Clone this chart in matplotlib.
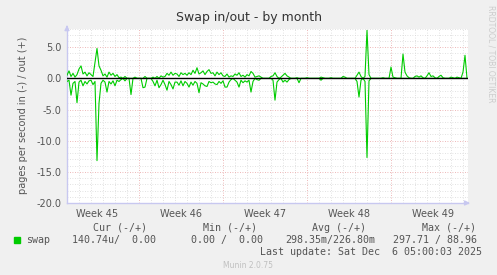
import numpy as np
import matplotlib
matplotlib.use("Agg")
import matplotlib.pyplot as plt

# samples every 4 hours, day 0 = Monday of week 45
step_days = 4 / 24
start_day = 1.0

# swap out (plotted above zero), pages per second
swap_out = [
    0.5, 1.2, 0.3, 0.8, 0.2, 0.6,
    1.5, 2.0, 0.7, 1.0, 0.4, 0.9,
    0.6, 0.3, 2.5, 4.8, 2.0, 1.3,
    0.4, 0.7, 0.2, 1.0, 0.5, 0.8,
    0.3, 0.6, 0.1, 0.2, 0.0, 0.3,
    0.0, 0.0, 0.0, 0.0, 0.2, 0.0,
    0.0, 0.0, 0.0, 0.3, 0.0, 0.0,
    0.0, 0.2, 0.0, 0.3, 0.0, 0.4,
    0.2, 0.3, 0.8, 0.5, 1.0, 0.5,
    0.8, 0.7, 0.3, 0.9, 0.6, 0.8,
    0.5, 0.9, 0.6, 1.3, 0.8, 1.7,
    0.7, 0.9, 1.2, 0.6, 1.1, 1.4,
    0.8, 0.9, 0.4, 1.0, 0.6, 0.9,
    0.4, 0.3, 0.7, 0.2, 0.4, 0.3,
    0.7, 0.5, 0.9, 0.3, 0.5, 0.2,
    0.6, 0.4, 1.1, 0.8, 0.2, 0.3,
    0.4, 0.2, 0.0, 0.0, 0.0, 0.0,
    0.3, 0.4, 0.9, 0.3, 0.0, 0.2,
    0.5, 0.8, 0.4, 0.2, 0.0, 0.0,
    0.0, 0.1, 0.0, 0.0, 0.0, 0.0,
    0.1, 0.0, 0.0, 0.0, 0.0, 0.0,
    0.0, 0.2, 0.1, 0.0, 0.0, 0.0,
    0.1, 0.0, 0.0, 0.0, 0.0, 0.0,
    0.3, 0.2, 0.0, 0.0, 0.0, 0.0,
    0.0, 0.5, 1.0, 0.3, 0.0, 0.3,
    7.7, 0.6, 0.0, 0.0, 0.0, 0.0,
    0.0, 0.0, 0.1, 0.0, 0.0, 0.0,
    1.8, 0.2, 0.1, 0.0, 0.0, 0.0,
    3.9, 1.0, 0.4, 0.1, 0.0, 0.0,
    0.3, 0.4, 0.2, 0.4, 0.1, 0.0,
    0.4, 0.9, 0.3, 0.4, 0.1, 0.0,
    0.3, 0.5, 0.1, 0.0, 0.0, 0.0,
    0.2, 0.1, 0.0, 0.2, 0.1, 0.0,
    1.0, 3.7, 0.0,
]

# swap in (plotted below zero), pages per second
swap_in = [
    0.5, 0.3, 2.7, 0.8, 0.5, 3.9,
    0.6, 0.3, 1.2, 0.5, 0.9, 0.4,
    0.3, 1.0, 0.5, 13.2, 4.0, 0.8,
    0.3, 0.6, 2.2, 0.5, 0.9, 0.4,
    1.2, 0.3, 0.5, 0.2, 0.0, 0.4,
    0.0, 0.0, 2.6, 0.0, 0.0, 0.0,
    0.0, 0.0, 1.5, 1.4, 0.0, 0.0,
    0.0, 0.5, 1.2, 0.3, 1.5, 1.0,
    0.3, 1.0, 1.9, 0.5, 1.0, 1.7,
    0.6, 0.6, 1.1, 0.4, 1.2, 0.5,
    0.8, 1.4, 0.6, 1.1, 0.5, 0.8,
    2.3, 0.7, 0.9, 1.2, 1.3, 0.5,
    0.7, 0.6, 0.9, 1.0, 0.5, 0.8,
    0.4, 1.4, 1.4, 0.6, 0.2, 0.0,
    0.3, 0.6, 1.4, 0.3, 0.7, 0.4,
    0.6, 0.3, 2.2, 0.5, 0.0, 0.2,
    0.3, 0.0, 0.0, 0.0, 0.0, 0.0,
    0.0, 0.3, 3.5, 0.6, 0.2, 0.0,
    0.6, 0.3, 0.6, 0.2, 0.0, 0.0,
    0.0, 0.0, 0.7, 0.0, 0.0, 0.0,
    0.0, 0.0, 0.0, 0.0, 0.0, 0.0,
    0.0, 0.3, 0.0, 0.0, 0.0, 0.0,
    0.0, 0.0, 0.0, 0.0, 0.0, 0.0,
    0.0, 0.0, 0.0, 0.0, 0.0, 0.0,
    0.0, 0.5, 3.0, 0.3, 0.0, 0.5,
    12.7, 0.4, 0.0, 0.0, 0.0, 0.0,
    0.0, 0.0, 0.0, 0.0, 0.0, 0.0,
    0.0, 0.0, 0.0, 0.0, 0.0, 0.0,
    0.0, 0.0, 0.0, 0.0, 0.0, 0.0,
    0.0, 0.0, 0.0, 0.0, 0.0, 0.0,
    0.0, 0.0, 0.0, 0.0, 0.0, 0.0,
    0.0, 0.0, 0.0, 0.0, 0.0, 0.0,
    0.0, 0.0, 0.0, 0.0, 0.0, 0.0,
    0.0, 0.0, 0.0,
]

week_labels = ["Week 45", "Week 46", "Week 47", "Week 48", "Week 49"]
week_starts = [0, 7, 14, 21, 28]

legend_headers = ["Cur (-/+)", "Min (-/+)", "Avg (-/+)", "Max (-/+)"]
legend_values = ["140.74u/  0.00", "0.00 /  0.00", "298.35m/226.80m", "297.71 / 88.96"]
last_update = "Last update: Sat Dec  6 05:00:03 2025"

green = "#00cc00"
txt = "#555555"


def main():
    t = start_day + np.arange(len(swap_out)) * step_days
    out_v = np.array(swap_out)
    in_v = -np.array(swap_in)

    fig = plt.figure(figsize=(4.97, 2.75), dpi=100, facecolor="#f0f0f0")
    ax = fig.add_axes([67 / 497, 1 - 203 / 275, 401 / 497, 174.5 / 275])
    ax.set_facecolor("white")

    x0, x1 = start_day, start_day + 401 / 12
    y0, y1 = -20, 8
    ax.set_xlim(x0, x1)
    ax.set_ylim(y0, y1)

    # grid: days / units minor, weeks / 5 units major
    for d in range(2, 35):
        if d % 7:
            ax.axvline(d, color="#d8d8d8", lw=0.6, ls=(0, (1, 2)), zorder=1)
    for d in week_starts[1:]:
        ax.axvline(d, color="#e8a0a0", lw=0.6, ls=(0, (1, 2)), zorder=1)
    for v in range(y0 + 1, y1 + 1):
        if v % 5:
            ax.axhline(v, color="#d8d8d8", lw=0.6, ls=(0, (1, 2)), zorder=1)
    for v in range(-15, 10, 5):
        ax.axhline(v, color="#e8a0a0", lw=0.6, ls=(0, (1, 2)), zorder=1)

    ax.plot(t, out_v, color=green, lw=0.8, zorder=3)
    ax.plot(t, in_v, color=green, lw=0.8, zorder=3)
    ax.plot([t[0], t[-1]], [0, 0], color="black", lw=1.0, zorder=4)

    for s in ["top", "right"]:
        ax.spines[s].set_visible(False)
    for s in ["left", "bottom"]:
        ax.spines[s].set_color("#c8c8f0")
        ax.spines[s].set_linewidth(1.0)
    ax.annotate("", xy=(0, 1.035), xytext=(0, 0.99), xycoords="axes fraction",
                arrowprops=dict(arrowstyle="-|>", color="#c8c8f0", lw=1, mutation_scale=7))
    ax.annotate("", xy=(1.012, 0), xytext=(0.99, 0), xycoords="axes fraction",
                arrowprops=dict(arrowstyle="-|>", color="#c8c8f0", lw=1, mutation_scale=7))

    ax.set_xticks([w + 3.5 for w in week_starts], week_labels)
    ax.set_yticks(range(-20, 10, 5), ["%.1f" % v for v in range(-20, 10, 5)])
    ax.tick_params(length=0, labelsize=7, labelcolor=txt, pad=4)

    ax.set_ylabel("pages per second in (-) / out (+)", fontsize=7, color=txt, labelpad=6)
    fig.text(0.5, 1 - 18 / 275, "Swap in/out - by month", ha="center", va="center",
             fontsize=9, color="#333333")
    fig.text(491 / 497, 1 - 5 / 275, "RRDTOOL / TOBI OETIKER", rotation=270,
             ha="center", va="top", fontsize=5.5, color="#cccccc")

    # legend block
    mono = dict(family="DejaVu Sans Mono", fontsize=7.2, color=txt)
    hdr_right = [147, 257, 366, 476]
    val_right = [156, 263, 375, 477]
    for h, xr in zip(legend_headers, hdr_right):
        fig.text(xr / 497, 1 - 228 / 275, h, ha="right", va="center", **mono)
    fig.patches.append(plt.Rectangle((14 / 497, 1 - 243 / 275), 6 / 497, 6 / 275,
                                     transform=fig.transFigure, color=green, figure=fig))
    fig.text(26 / 497, 1 - 240 / 275, "swap", ha="left", va="center", **mono)
    for v, xr in zip(legend_values, val_right):
        fig.text(xr / 497, 1 - 240 / 275, v, ha="right", va="center", **mono)
    fig.text(482 / 497, 1 - 252 / 275, last_update, ha="right", va="center", **mono)
    fig.text(248 / 497, 1 - 265 / 275, "Munin 2.0.75", ha="center", va="center",
             fontsize=5.5, color="#c0c0c0")

    fig.savefig("out.png", dpi=100, facecolor=fig.get_facecolor())


if __name__ == "__main__":
    main()
